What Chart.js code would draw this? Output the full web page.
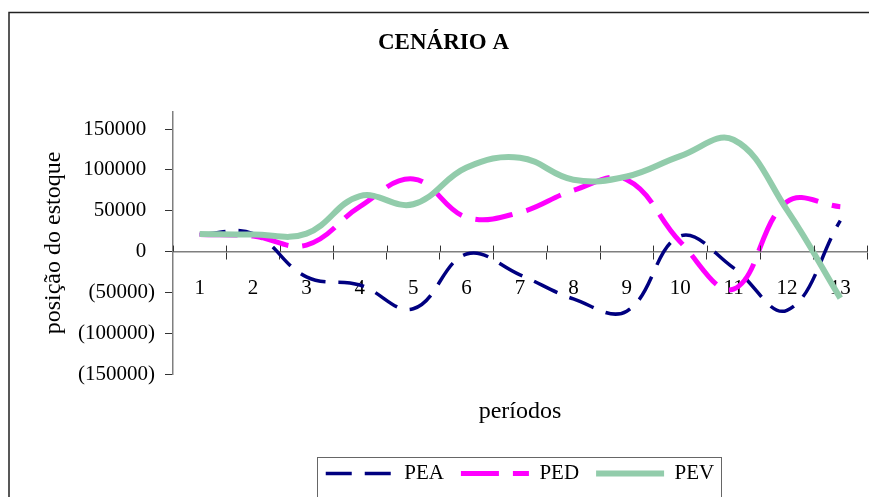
<!DOCTYPE html>
<html>
<head>
<meta charset="utf-8">
<script src="https://cdn.jsdelivr.net/npm/chart.js@4"></script>
<style>
  html, body { margin: 0; padding: 0; background: #fff; }
</style>
</head>
<body>
<canvas id="chart" width="869" height="497"></canvas>
<script>
// categories (periods)
const periods = ['1', '2', '3', '4', '5', '6', '7', '8', '9', '10', '11', '12', '13'];
// series values
const pea = [21000, 22000, -31000, -41000, -70000, -3000, -28500, -58000, -73000, 19000, -20000, -72000, 38000];
const ped = [21000, 19000, 8000, 55000, 89000, 42000, 48000, 75000, 88000, 12000, -46000, 61000, 55000];
const pev = [21500, 21000, 22000, 68000, 58000, 103000, 115000, 88000, 92000, 117000, 137000, 51000, -57000];
// y axis tick labels
const yTickValues = [-150000, -100000, -50000, 0, 50000, 100000, 150000];

const serif = "'Liberation Serif', 'Times New Roman', serif";

// white background, page frame, legend frame, tick stubs above the x axis
const framePlugin = {
  id: 'frame',
  beforeDraw(chart) {
    const ctx = chart.ctx;
    ctx.save();
    ctx.fillStyle = '#fff';
    ctx.fillRect(0, 0, chart.width, chart.height);
    ctx.strokeStyle = '#222';
    ctx.lineWidth = 1.5;
    ctx.beginPath();
    ctx.moveTo(chart.width, 12.5);
    ctx.lineTo(9, 12.5);
    ctx.lineTo(9, chart.height);
    ctx.stroke();
    ctx.restore();
  },
  afterDraw(chart) {
    const ctx = chart.ctx;
    const xs = chart.scales.x;
    const y0 = chart.scales.y.getPixelForValue(0);
    ctx.save();
    ctx.strokeStyle = '#333';
    ctx.lineWidth = 1;
    ctx.beginPath();
    const n = periods.length;
    for (let i = 0; i <= n; i++) {
      const x = Math.round(xs.left + i * xs.width / n) + 0.5;
      ctx.moveTo(x, y0 - 6);
      ctx.lineTo(x, y0);
    }
    ctx.stroke();

    // legend border
    const boxes = chart.legend.legendHitBoxes;
    if (boxes && boxes.length) {
      const first = boxes[0];
      const last = boxes[boxes.length - 1];
      const left = Math.round(first.left - 9) + 0.5;
      const right = Math.round(last.left + last.width + 7) + 0.5;
      const top = Math.round(first.top - 6) + 0.5;
      ctx.strokeStyle = '#666';
      ctx.lineWidth = 1;
      ctx.strokeRect(left, top, right - left, chart.height + 10 - top);
    }
    ctx.restore();
  }
};

const chart = new Chart(document.getElementById('chart'), {
  type: 'line',
  plugins: [framePlugin],
  data: {
    labels: periods,
    datasets: [
      {
        label: 'PEA',
        data: pea,
        borderColor: '#000080',
        backgroundColor: '#000080',
        borderWidth: 3.5,
        borderDash: [26, 13],
        order: 3,
      },
      {
        label: 'PED',
        data: ped,
        borderColor: '#ff00ff',
        backgroundColor: '#ff00ff',
        borderWidth: 5,
        borderDash: [38, 14],
        order: 2,
      },
      {
        label: 'PEV',
        data: pev,
        borderColor: '#92ccab',
        backgroundColor: '#92ccab',
        borderWidth: 6,
        order: 1,
      },
    ],
  },
  options: {
    responsive: false,
    devicePixelRatio: 1,
    animation: false,
    events: [],
    layout: { padding: { top: 13, left: 20, right: 2, bottom: 3 } },
    elements: {
      point: { radius: 0, hoverRadius: 0 },
      line: { tension: 0.4, fill: false, borderCapStyle: 'butt', borderJoinStyle: 'round' },
    },
    scales: {
      x: {
        type: 'category',
        position: { y: 0 },
        offset: true,
        grid: { offset: true, drawOnChartArea: false, drawTicks: true, tickLength: 7, tickColor: '#333', tickWidth: 1 },
        border: { display: true, color: '#7f7f7f', width: 1.5 },
        ticks: { color: '#000', font: { family: serif, size: 21 }, padding: 17, maxRotation: 0, autoSkip: false },
      },
      y: {
        min: -150000,
        max: 171000,
        afterBuildTicks: (scale) => { scale.ticks = yTickValues.map(v => ({ value: v })); },
        afterFit: (scale) => { scale.width = 153; },
        grid: { drawOnChartArea: false, tickLength: 8, tickColor: '#333', tickWidth: 1 },
        border: { display: true, color: '#7f7f7f', width: 1.5 },
        ticks: {
          color: '#000',
          font: { family: serif, size: 21 },
          padding: 10,
          callback: (v) => v < 0 ? '(' + Math.abs(v) + ')' : v + '\u2005\u2006',
        },
        title: {
          display: true,
          text: 'posição do estoque',
          color: '#000',
          font: { family: serif, size: 24 },
          padding: { top: 19, bottom: 0 },
        },
      },
    },
    plugins: {
      title: {
        display: true,
        text: 'CENÁRIO A',
        color: '#000',
        font: { family: serif, size: 23, weight: 'bold' },
        padding: { top: 16, bottom: 55.4 },
      },
      legend: {
        position: 'bottom',
        fullSize: false,
        labels: {
          usePointStyle: true,
          pointStyle: 'line',
          pointStyleWidth: 68,
          padding: 17,
          color: '#000',
          font: { family: serif, size: 21 },
          sort: (a, b) => a.datasetIndex - b.datasetIndex,
          // point-style legend items take the point style; use the line's dash and width instead
          generateLabels: (c) => Chart.defaults.plugins.legend.labels.generateLabels(c).map(item => {
            const ds = c.data.datasets[item.datasetIndex];
            item.lineDash = ds.borderDash || [];
            item.lineWidth = ds.borderWidth;
            item.strokeStyle = ds.borderColor;
            return item;
          }),
        },
        title: {
          display: true,
          text: 'períodos',
          color: '#000',
          font: { family: serif, size: 24 },
          padding: { top: 26, bottom: 17.2 },
        },
      },
      tooltip: { enabled: false },
    },
  },
});
</script>
</body>
</html>
